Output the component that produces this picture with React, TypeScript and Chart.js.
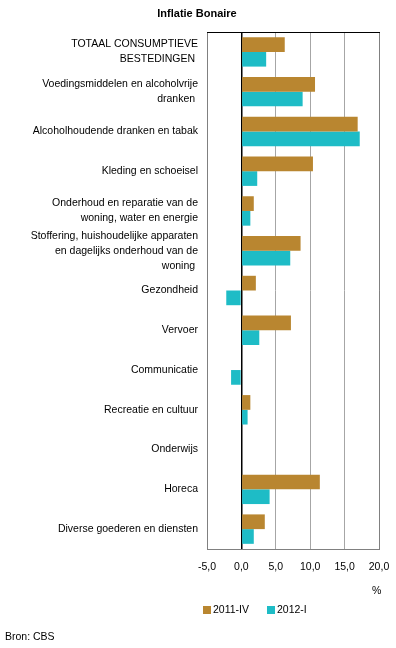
import React, { useEffect, useRef } from "react";
import { Chart, registerables } from "chart.js";

Chart.register(...registerables);

const categories: string[][] = [
  ["TOTAAL CONSUMPTIEVE", "BESTEDINGEN "],
  ["Voedingsmiddelen en alcoholvrije", "dranken "],
  ["Alcoholhoudende dranken en tabak"],
  ["Kleding en schoeisel"],
  ["Onderhoud en reparatie van de", "woning, water en energie"],
  ["Stoffering, huishoudelijke apparaten", "en dagelijks onderhoud van de", "woning "],
  ["Gezondheid"],
  ["Vervoer"],
  ["Communicatie"],
  ["Recreatie en cultuur"],
  ["Onderwijs"],
  ["Horeca"],
  ["Diverse goederen en diensten"],
];

const series2011IV: number[] = [6.3, 10.7, 16.9, 10.4, 1.8, 8.6, 2.1, 7.2, 0, 1.3, 0, 11.4, 3.4];
const series2012I: number[] = [3.6, 8.9, 17.2, 2.3, 1.3, 7.1, -2.2, 2.6, -1.5, 0.9, 0, 4.1, 1.8];

const seriesNames: string[] = ["2011-IV", "2012-I"];
const xTicks: number[] = [-5, 0, 5, 10, 15, 20];

const title = "Inflatie Bonaire";
const unitLabel = "%";
const sourceLabel = "Bron: CBS";

const BROWN = "#B98630";
const TEAL = "#1EBCC6";
const FONT = "'Liberation Sans', Arial, sans-serif";

export default function App() {
  const ref = useRef<HTMLCanvasElement | null>(null);

  useEffect(() => {
    const canvas = ref.current;
    if (!canvas) return;

    const decor = {
      id: "decor",
      afterDraw(chart: any) {
        const ctx = chart.ctx as CanvasRenderingContext2D;
        const a = chart.chartArea;
        ctx.save();
        ctx.strokeStyle = "#808080";
        ctx.lineWidth = 1;
        ctx.beginPath();
        ctx.moveTo(Math.round(a.right) + 0.5, a.top);
        ctx.lineTo(Math.round(a.right) + 0.5, a.bottom);
        ctx.stroke();
        ctx.strokeStyle = "#000000";
        ctx.beginPath();
        ctx.moveTo(a.left, Math.round(a.top) + 0.5);
        ctx.lineTo(a.right + 1, Math.round(a.top) + 0.5);
        ctx.stroke();

        ctx.fillStyle = "#000";
        ctx.textBaseline = "middle";
        ctx.font = `bold 11px ${FONT}`;
        ctx.textAlign = "center";
        ctx.fillText(title, 197, 14);

        ctx.font = `10.5px ${FONT}`;
        ctx.textAlign = "left";
        ctx.fillText(unitLabel, 372, 591);

        const colors = [BROWN, TEAL];
        const xs = [203, 267];
        seriesNames.forEach((n, i) => {
          ctx.fillStyle = colors[i];
          ctx.fillRect(xs[i], 606, 8, 8);
          ctx.fillStyle = "#000";
          ctx.fillText(n, xs[i] + 10, 610.5);
        });

        ctx.fillText(sourceLabel, 5, 637);
        ctx.restore();
      },
    };

    const chart = new Chart(canvas, {
      type: "bar",
      data: {
        labels: categories as any,
        datasets: [
          {
            label: seriesNames[0],
            data: series2011IV,
            backgroundColor: BROWN,
            categoryPercentage: 0.74,
            barPercentage: 1,
          },
          {
            label: seriesNames[1],
            data: series2012I,
            backgroundColor: TEAL,
            categoryPercentage: 0.74,
            barPercentage: 1,
          },
        ],
      },
      options: {
        indexAxis: "y",
        animation: false,
        responsive: false,
        maintainAspectRatio: false,
        layout: { padding: { left: 0, right: 17, top: 32, bottom: 0 } },
        plugins: {
          legend: { display: false },
          title: { display: false },
          tooltip: { enabled: false },
        },
        scales: {
          x: {
            min: -5,
            max: 20,
            afterBuildTicks: (scale: any) => {
              scale.ticks = xTicks.map((v) => ({ value: v }));
            },
            afterFit: (scale: any) => {
              scale.height = 99;
              scale.paddingLeft = 0;
              scale.paddingRight = 0;
            },
            ticks: {
              color: "#000",
              font: { family: FONT, size: 10.5 },
              padding: 12,
              autoSkip: false,
              maxRotation: 0,
              callback: (v: any) => Number(v).toFixed(1).replace(".", ","),
            },
            grid: {
              drawTicks: false,
              color: (c: any) =>
                c.tick && c.tick.value === 0
                  ? "#000000"
                  : c.tick && (c.tick.value === -5 || c.tick.value === 20)
                  ? "#808080"
                  : "#A6A6A6",
              lineWidth: (c: any) => (c.tick && c.tick.value === 0 ? 1.5 : 1),
            },
            border: { display: true, color: "#808080" },
          },
          y: {
            afterFit: (scale: any) => {
              scale.width = 207;
              scale.paddingTop = 0;
              scale.paddingBottom = 0;
            },
            ticks: {
              color: "#000",
              font: { family: FONT, size: 10.5, lineHeight: 1.42 },
              padding: 9,
              autoSkip: false,
            },
            grid: { display: false, drawTicks: false },
            border: { display: true, color: "#808080" },
          },
        },
      },
      plugins: [decor],
    });

    return () => chart.destroy();
  }, []);

  return (
    <div style={{ position: "fixed", left: 0, top: 0, width: 396, height: 648, background: "#fff" }}>
      <canvas ref={ref} width={396} height={648} style={{ width: 396, height: 648, display: "block" }} />
    </div>
  );
}
